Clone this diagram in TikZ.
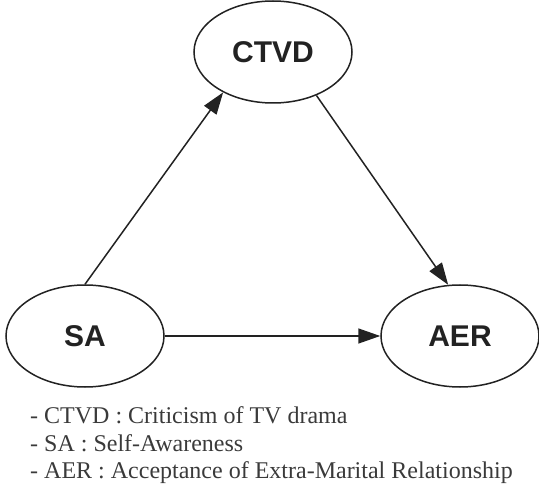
\documentclass[tikz,border=0pt]{standalone}
\usepackage{fontspec}
\setmainfont{Liberation Serif}
\setsansfont{Liberation Sans}
\usetikzlibrary{arrows.meta,shapes.geometric}
\definecolor{inkgray}{HTML}{222222}
\definecolor{notegray}{HTML}{3a3a3a}

\begin{document}
\begin{tikzpicture}[x=1pt, y=-1pt,
    var/.style={draw=inkgray, ellipse, line width=1.5pt, minimum width=158pt,
                minimum height=102pt, inner sep=0pt, text=inkgray,
                font=\sffamily\bfseries\fontsize{30}{30}\selectfont},
    arr/.style={-{Triangle[length=22pt,width=15pt]}, line width=1.5pt, inkgray},
    note/.style={anchor=base west, inner sep=0pt, text=notegray,
                 font=\fontsize{24}{28}\selectfont}
  ]
    \useasboundingbox (0,0) rectangle (539,484);

    % --- variables ---
    \node[var] (ctvd) at (273,52) {CTVD};
    \node[var] (sa) at (85,336) {SA};
    \node[var] (aer) at (460,336) {AER};

    % --- paths ---
    \draw[arr] (sa.north) -- (ctvd.219);
    \draw[arr] (ctvd.-45) -- (aer.103);
    \draw[arr] (sa) -- (aer);

    % --- legend ---
    \node[note] (n1) at (30,423) {- CTVD : Criticism of TV drama};
    \node[note] (n2) at (30,451) {- SA : Self-Awareness};
    \node[note] (n3) at (30,478) {- AER : Acceptance of Extra-Marital Relationship};
  \end{tikzpicture}
\end{document}
